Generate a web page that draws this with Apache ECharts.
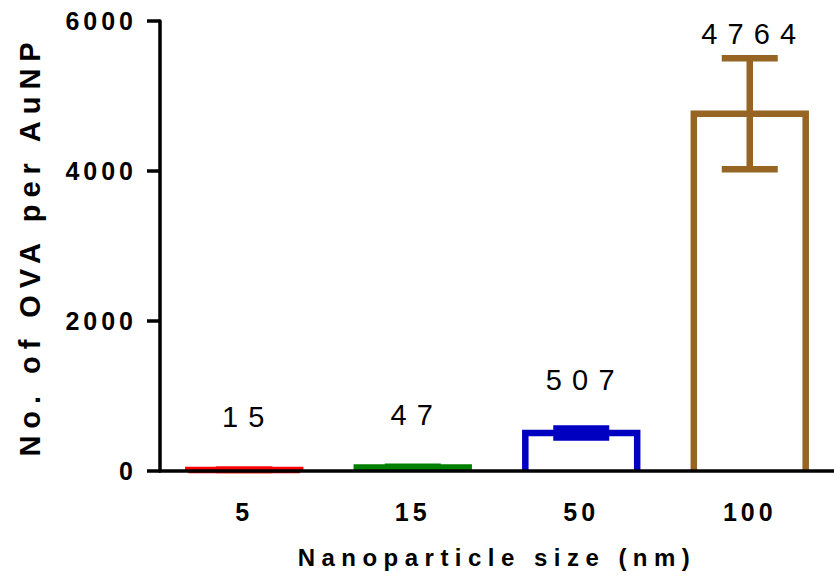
<!DOCTYPE html>
<html>
<head>
<meta charset="utf-8">
<script src="https://cdn.jsdelivr.net/npm/echarts@6/dist/echarts.min.js"></script>
<style>
  html, body { margin: 0; padding: 0; background: #fff; }
  #chart { width: 834px; height: 578px; }
</style>
</head>
<body>
<div id="chart"></div>
<script>
// ---- data ----
const categories = ['5', '15', '50', '100'];
const means = [15, 47, 507, 4764];
const sds = [3, 10, 60, 740];
const yTickValues = [0, 2000, 4000, 6000];
const xTitle = 'Nanoparticle size (nm)';
const yTitle = 'No. of OVA per AuNP';

// ---- styles ----
const colors = ['#ff0000', '#008000', '#0000c0', '#966423'];
const labelGap = [53, 52, 53, 80];
const strokeW = 6.5;
const FONT = 'Liberation Sans, Arial, sans-serif';

const chart = echarts.init(document.getElementById('chart'), null, { renderer: 'svg' });

const itemData = means.map((v, i) => [i, v, sds[i]]);

function renderBar(params, api) {
  const i = params.dataIndex;
  const x = api.value(0), m = api.value(1), s = api.value(2);
  const band = api.size([1, 0])[0];
  const half = band * 0.332;
  const base = api.coord([x, 0]);
  const topPt = api.coord([x, m]);
  const errTop = api.coord([x, m + s]);
  const errBot = api.coord([x, m - s]);
  const cx = topPt[0];
  const c = colors[i];
  const st = { stroke: c, lineWidth: strokeW, lineCap: 'butt', lineJoin: 'miter', fill: null };
  const cap = 28;
  return {
    type: 'group',
    children: [
      { type: 'polyline', shape: { points: [[cx - half, base[1]], [cx - half, topPt[1]], [cx + half, topPt[1]], [cx + half, base[1]]] }, style: st },
      { type: 'line', shape: { x1: cx, y1: errTop[1], x2: cx, y2: errBot[1] }, style: st },
      { type: 'line', shape: { x1: cx - cap, y1: errTop[1], x2: cx + cap, y2: errTop[1] }, style: st },
      { type: 'line', shape: { x1: cx - cap, y1: errBot[1], x2: cx + cap, y2: errBot[1] }, style: st },
      { type: 'text', x: cx + 4, y: topPt[1] - labelGap[i],
        style: { text: String(m), fill: '#000', font: '29px ' + FONT, textAlign: 'center', textVerticalAlign: 'middle' } }
    ]
  };
}

chart.setOption({
  animation: false,
  backgroundColor: '#ffffff',
  grid: { left: 160, top: 21, height: 450, width: 684, containLabel: false },
  xAxis: {
    type: 'category',
    data: categories,
    z: 10,
    name: xTitle,
    nameLocation: 'middle',
    nameGap: 74,
    nameTextStyle: { fontFamily: FONT, fontWeight: 'bold', fontSize: 24, color: '#000' },
    axisLine: { lineStyle: { color: '#000', width: 3.5 } },
    axisTick: { alignWithLabel: true, length: 12, lineStyle: { color: '#000', width: 3.5 } },
    axisLabel: { margin: 28, fontFamily: FONT, fontWeight: 'bold', fontSize: 25, color: '#000' },
    splitLine: { show: false }
  },
  yAxis: {
    type: 'value',
    min: 0,
    max: 6000,
    interval: 2000,
    z: 10,
    name: yTitle,
    nameLocation: 'middle',
    nameRotate: 90,
    nameGap: 116,
    nameTextStyle: { fontFamily: FONT, fontWeight: 'bold', fontSize: 29, color: '#000' },
    axisLine: { show: true, lineStyle: { color: '#000', width: 3.5 } },
    axisTick: { show: true, length: 13, lineStyle: { color: '#000', width: 3.5 } },
    axisLabel: {
      margin: 23, fontFamily: FONT, fontWeight: 'bold', fontSize: 25, color: '#000',
      formatter: v => (yTickValues.indexOf(v) >= 0 ? String(v) : '')
    },
    splitLine: { show: false }
  },
  series: [
    {
      type: 'custom',
      z: 2,
      data: itemData,
      renderItem: renderBar
    }
  ]
});

function applySpacing() {
  document.querySelectorAll('#chart text').forEach(t => {
    const s = t.textContent;
    const fw = parseInt(getComputedStyle(t).fontWeight, 10) || 400;
    let ls;
    if (s === xTitle) ls = '0.27em';
    else if (s === yTitle) ls = '0.24em';
    else if (fw >= 600) ls = '0.16em';
    else ls = '0.35em';
    t.style.letterSpacing = ls;
  });
}
chart.on('finished', applySpacing);
applySpacing();
setTimeout(applySpacing, 50);
</script>
</body>
</html>
